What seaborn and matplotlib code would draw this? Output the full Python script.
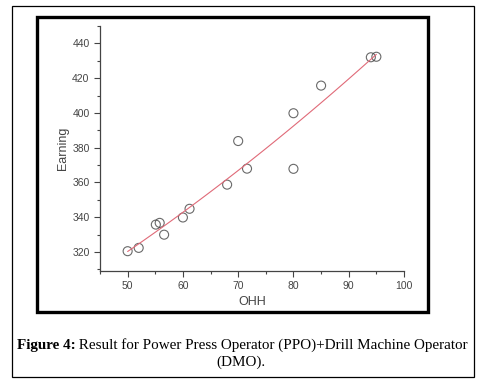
import matplotlib
matplotlib.use("Agg")
import matplotlib.pyplot as plt
import seaborn as sns
import pandas as pd
from matplotlib.patches import Rectangle
from matplotlib.ticker import MultipleLocator

ohh = [50, 52, 55.1, 55.8, 56.6, 60, 61.2, 68, 70, 71.6, 80, 80, 85, 94, 95]
earning = [320.4, 322.3, 335.7, 336.7, 329.9, 339.8, 344.8, 358.7, 383.8, 367.9, 399.8, 367.8, 415.7, 432, 432.3]
caption_bold = "Figure 4:"
caption_rest = " Result for Power Press Operator (PPO)+Drill Machine Operator"
caption_line2 = "(DMO)."

df = pd.DataFrame({"OHH": ohh, "Earning": earning})

sns.set_style("ticks")
plt.rcParams["font.family"] = ["Liberation Sans", "DejaVu Sans"]

fig = plt.figure(figsize=(4.81, 3.83), dpi=100)
W, H = 481, 383

# frames around the figure
fig.patches.append(Rectangle((12 / W, 1 - 377 / H), 462 / W, 371 / H, transform=fig.transFigure,
                             fill=False, edgecolor="black", linewidth=0.9))
fig.patches.append(Rectangle((37 / W, 1 - 312 / H), 391 / W, 295 / H, transform=fig.transFigure,
                             fill=False, edgecolor="black", linewidth=2.4))

ax = fig.add_axes([100 / W, 1 - 271 / H, 304 / W, 245 / H])
sns.regplot(data=df, x="OHH", y="Earning", ax=ax, order=2, ci=None,
            scatter_kws=dict(s=42, facecolors="none", edgecolors="#444444", linewidths=0.8),
            line_kws=dict(color="#e06a78", linewidth=0.8))

ax.set_xlim(45, 100)
ax.set_ylim(309, 450)
ax.xaxis.set_major_locator(MultipleLocator(10))
ax.xaxis.set_minor_locator(MultipleLocator(5))
ax.yaxis.set_major_locator(MultipleLocator(20))
ax.yaxis.set_minor_locator(MultipleLocator(10))
ax.set_xticks([50, 60, 70, 80, 90, 100])
ax.tick_params(which="major", length=4, width=0.8, labelsize=7.5, colors="#444444", labelcolor="#444444")
ax.tick_params(which="minor", length=2, width=0.8, colors="#444444")
for s in ["left", "bottom"]:
    ax.spines[s].set_color("#444444")
    ax.spines[s].set_linewidth(0.9)
sns.despine(ax=ax)
ax.set_xlabel("OHH", fontsize=9, color="#444444", labelpad=3)
ax.set_ylabel("Earning", fontsize=9, color="#444444", labelpad=2)

serif = ["Liberation Serif", "DejaVu Serif"]
fs = 10.9
t1 = fig.text(0.5, 1 - 345 / H, caption_bold + caption_rest, ha="center", va="center",
              fontsize=fs, family=serif, color="black")
fig.canvas.draw()
# bold lead-in of the caption
bb = t1.get_window_extent()
fig.texts.remove(t1)
tb = fig.text(bb.x0 / fig.bbox.width, 1 - 345 / H, caption_bold, ha="left", va="center",
              fontsize=fs, family=serif, weight="bold", color="black")
fig.canvas.draw()
bb2 = tb.get_window_extent()
fig.text(bb2.x1 / fig.bbox.width, 1 - 345 / H, caption_rest, ha="left", va="center",
         fontsize=fs, family=serif, color="black")
fig.text(0.5, 1 - 362 / H, caption_line2, ha="center", va="center",
         fontsize=fs, family=serif, color="black")

fig.savefig("out.png", dpi=100)
